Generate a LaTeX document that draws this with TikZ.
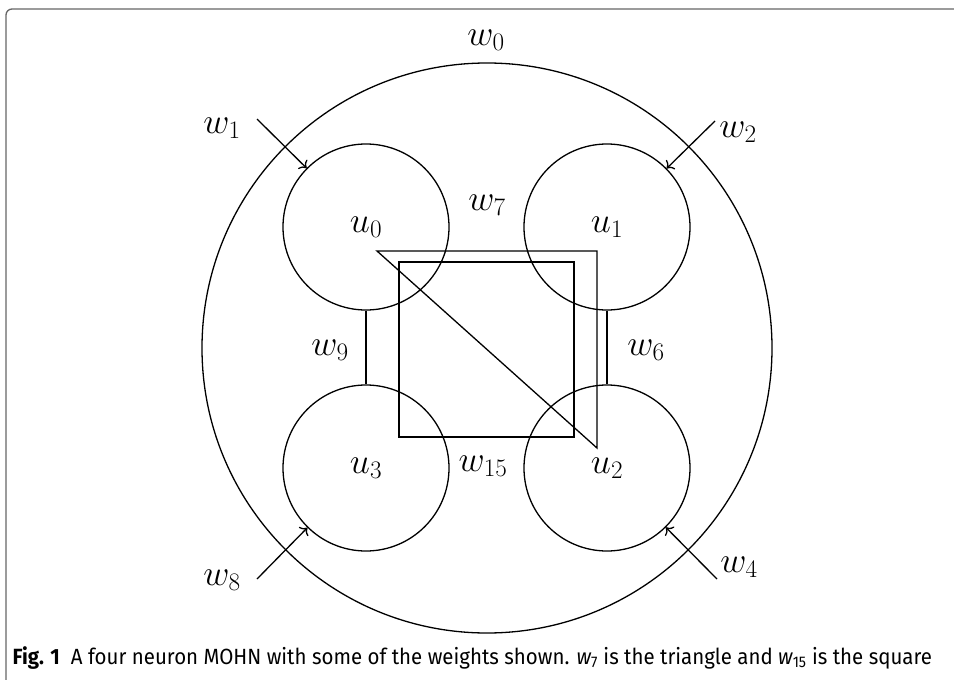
\RequirePackage{fix-cm}
\documentclass[tikz,border=0pt]{standalone}
\usepackage{fontspec}
\usetikzlibrary{arrows.meta}
\newfontfamily\capfont[FakeStretch=0.93]{Fira Sans}
\begin{document}
\begin{tikzpicture}[x=1pt,y=-1pt,line width=1.3pt,
  mathlab/.style={font=\fontsize{36}{40}\selectfont, inner sep=0pt},
  neuron/.style={circle, draw, minimum size=166pt, inner sep=0pt, font=\fontsize{36}{40}\selectfont},
  outer/.style={circle, draw, minimum size=570pt, inner sep=0pt},
  wire/.style={-{To[length=6pt,width=13pt]}}]
\useasboundingbox (0,0) rectangle (954,680);
% frame
\draw[gray!80!black, line width=1.3pt, rounded corners=6pt] (954,9) -- (6,9) -- (6,680);
% big circle
\node[outer] (big) at (487,348) {};
% neurons
\node[neuron] (u0) at (366,227) {$u_0$};
\node[neuron] (u1) at (607,227) {$u_1$};
\node[neuron] (u3) at (366,468) {$u_3$};
\node[neuron] (u2) at (607,468) {$u_2$};
% pair weights
\draw (u0.south) -- (u3.north);
\draw (u1.south) -- (u2.north);
% triangle
\coordinate (t1) at (377,251);
\coordinate (t2) at (597,251);
\coordinate (t3) at (597,448);
\draw (t1) -- (t2) -- (t3) -- cycle;
% square
\coordinate (s1) at (399,262);
\coordinate (s2) at (574,437);
\draw (s1) rectangle (s2);
% input arrows
\coordinate (a1) at (257,119);
\coordinate (a2) at (715,121);
\coordinate (a8) at (257,579);
\coordinate (a4) at (717,579);
\draw[wire] (a1) -- (u0);
\draw[wire] (a2) -- (u1);
\draw[wire] (a8) -- (u3);
\draw[wire] (a4) -- (u2);
% labels
\node[mathlab] (w0) at (486,40) {$w_0$};
\node[mathlab] (w1) at (222,128) {$w_1$};
\node[mathlab] (w2) at (738,132) {$w_2$};
\node[mathlab] (w7) at (487,205) {$w_7$};
\node[mathlab] (w9) at (330,350) {$w_9$};
\node[mathlab] (w6) at (646,350) {$w_6$};
\node[mathlab] (w15) at (483,466) {$w_{15}$};
\node[mathlab] (w8) at (222,580) {$w_8$};
\node[mathlab] (w4) at (739,567) {$w_4$};
% caption
\node[anchor=base west, inner sep=0pt, font=\capfont\fontsize{22}{26}\selectfont] (cap) at (12,664)
  {\textbf{Fig. 1}\hspace{0.5em}A four neuron MOHN with some of the weights shown. {\itshape w}\textsubscript{7} is the triangle and {\itshape w}\textsubscript{15} is the square};
\end{tikzpicture}
\end{document}
